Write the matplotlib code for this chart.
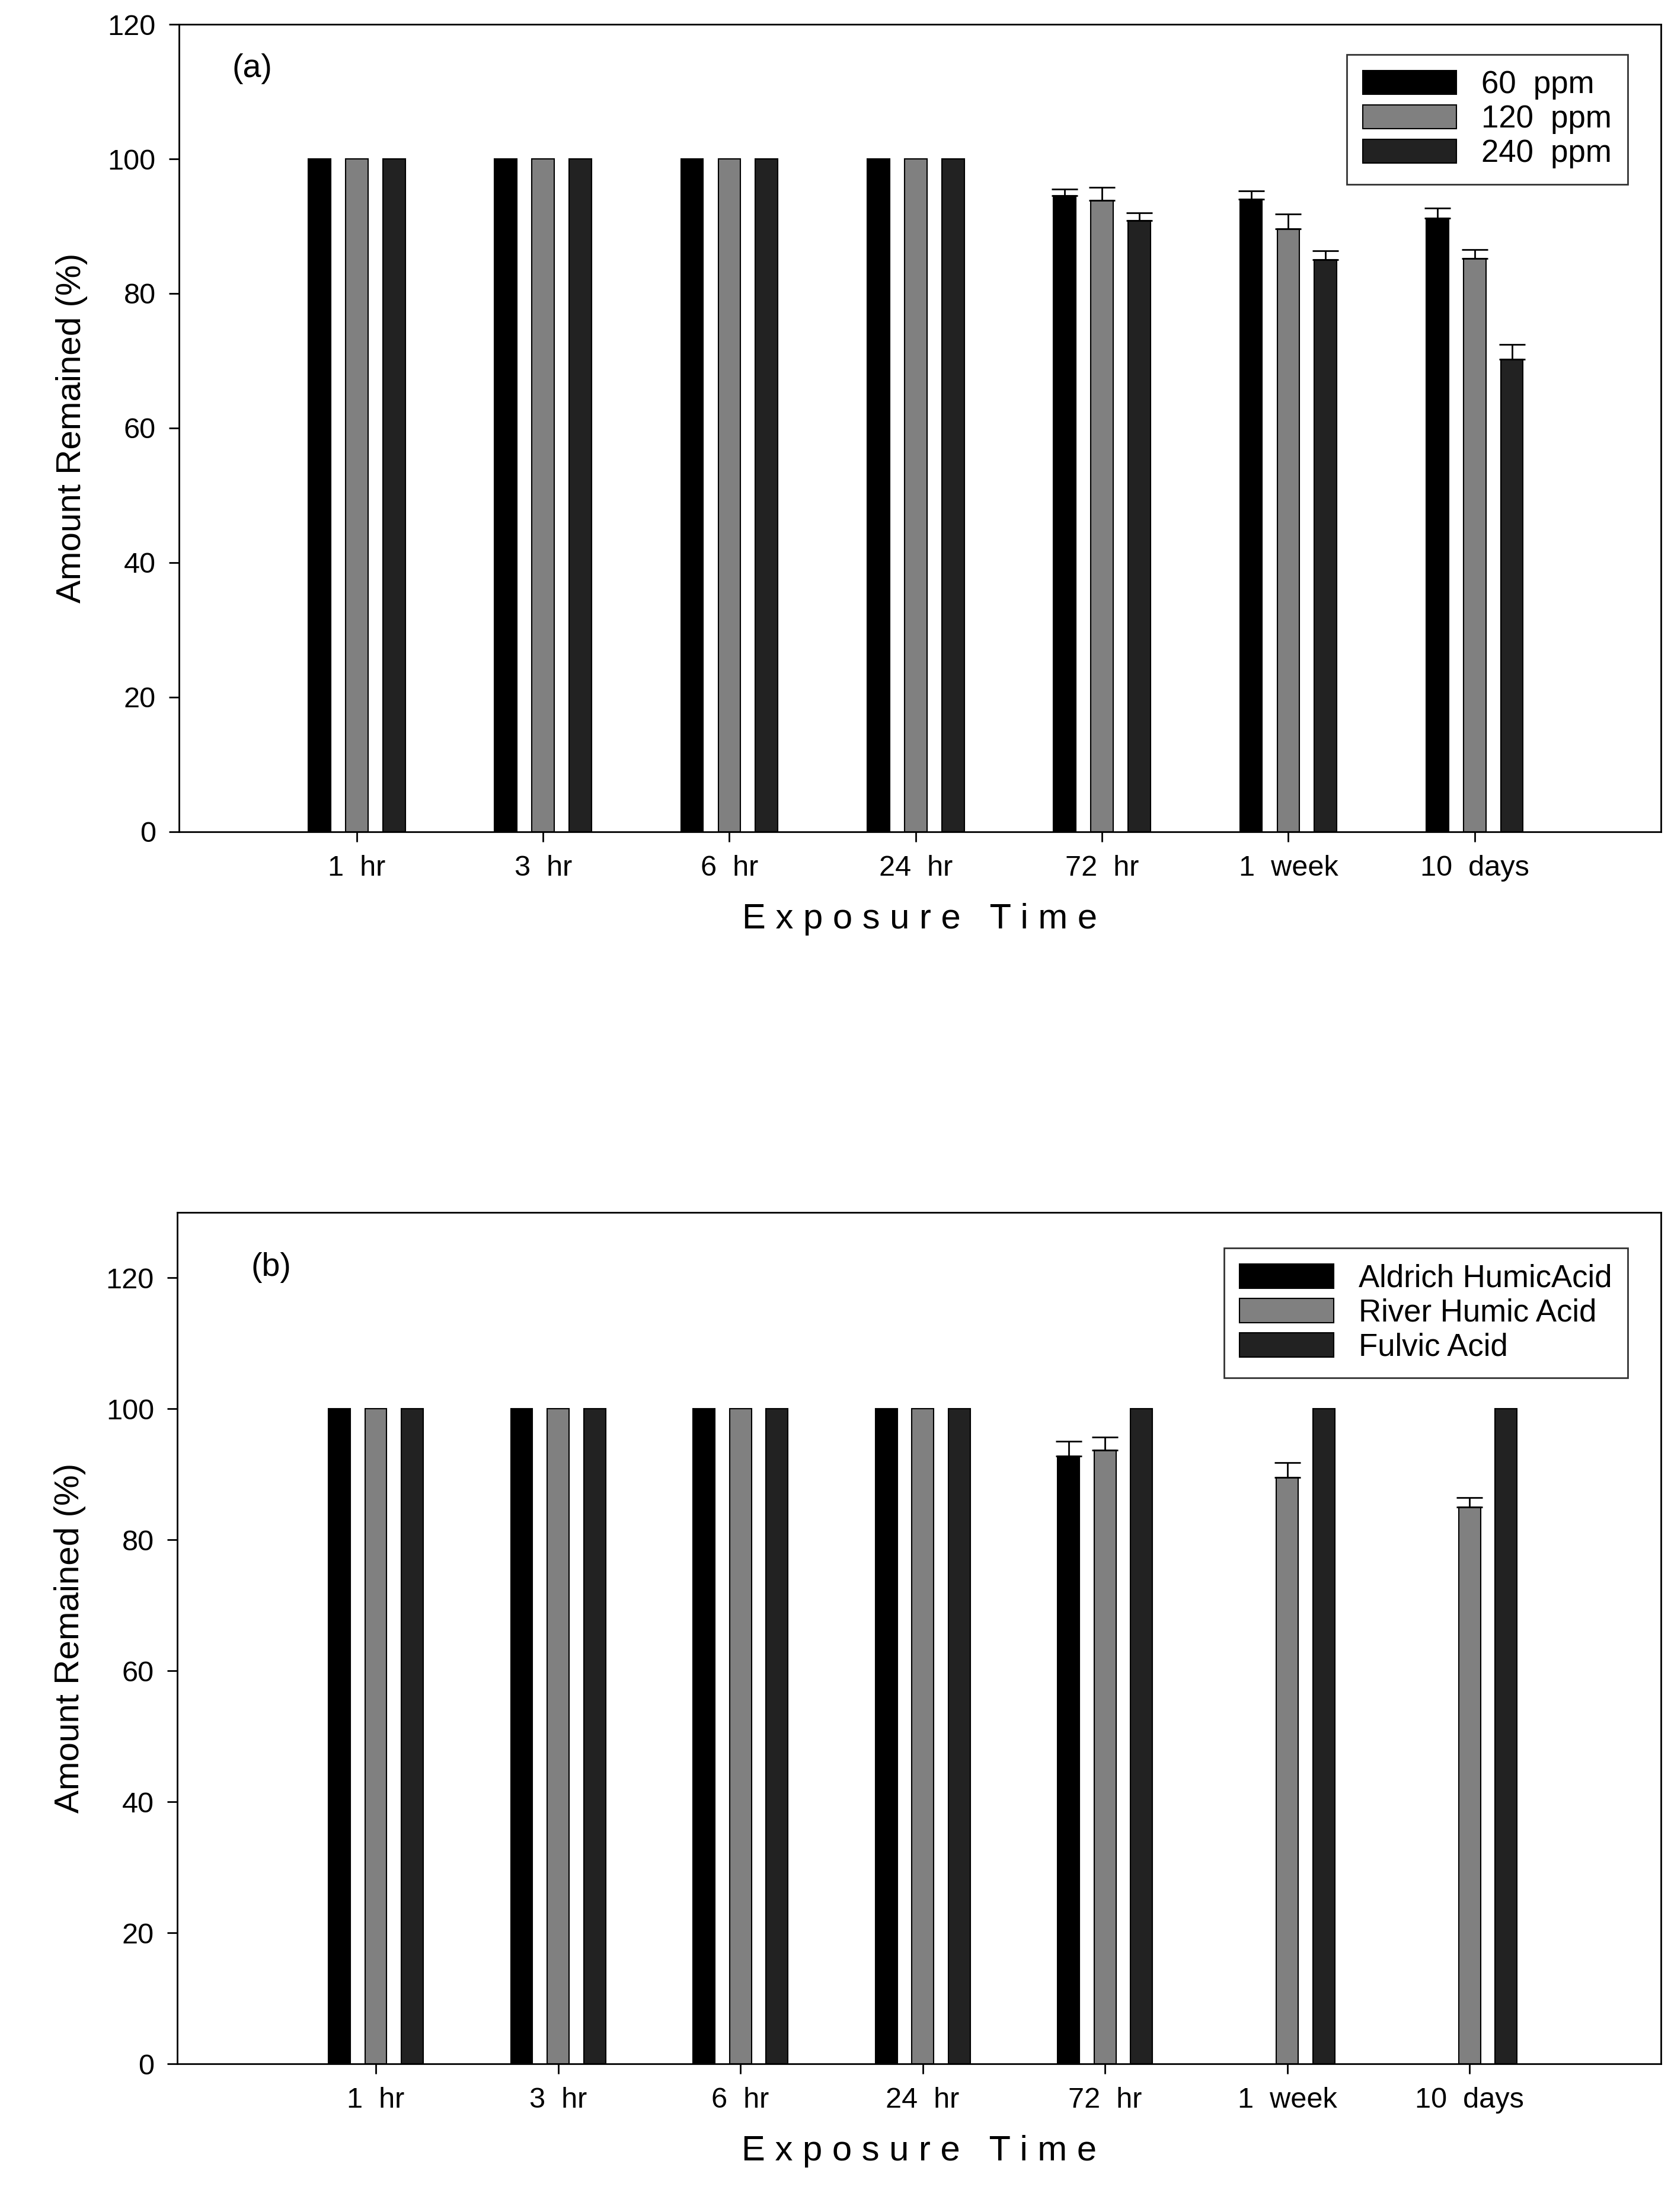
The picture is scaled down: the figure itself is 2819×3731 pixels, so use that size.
import matplotlib
matplotlib.use("Agg")
import matplotlib.pyplot as plt
import numpy as np

plt.rcParams['font.family'] = ['Liberation Sans', 'DejaVu Sans']

categories = ["1 hr", "3 hr", "6 hr", "24 hr", "72 hr", "1 week", "10 days"]

a_labels = ["60 ppm", "120 ppm", "240 ppm"]
a_vals = [[100, 100, 100, 100, 94.5, 94.0, 91.2],
          [100, 100, 100, 100, 93.8, 89.6, 85.2],
          [100, 100, 100, 100, 90.8, 85.0, 70.2]]
a_errs = [[0, 0, 0, 0, 1.0, 1.2, 1.5],
          [0, 0, 0, 0, 2.0, 2.2, 1.3],
          [0, 0, 0, 0, 1.2, 1.3, 2.2]]

b_labels = ["Aldrich HumicAcid", "River Humic Acid", "Fulvic Acid"]
b_vals = [[100, 100, 100, 100, 92.8, np.nan, np.nan],
          [100, 100, 100, 100, 93.7, 89.5, 85.0],
          [100, 100, 100, 100, 100, 100, 100]]
b_errs = [[0, 0, 0, 0, 2.2, 0, 0],
          [0, 0, 0, 0, 2.0, 2.3, 1.4],
          [0, 0, 0, 0, 0, 0, 0]]

colors = ["#000000", "#808080", "#222222"]

fig = plt.figure(figsize=(28.19, 37.31), dpi=100)
axa = fig.add_axes([0.107, 0.624, 0.887, 0.365])
axb = fig.add_axes([0.106, 0.067, 0.888, 0.385])

def spaced(s):
    return s.replace(" ", "  ")

def draw(ax, vals, errs, labels, xlim, ylim, yticks, tag, tagpos, legloc):
    x = np.arange(len(categories))
    for i in range(3):
        v = np.array(vals[i], dtype=float)
        e = np.array(errs[i], dtype=float)
        ax.bar(x + (i - 1) * 0.2, v, 0.12, color=colors[i], edgecolor="black",
               linewidth=1.5, label=labels[i])
        m = (e > 0) & ~np.isnan(v)
        ax.errorbar((x + (i - 1) * 0.2)[m], v[m], yerr=[np.zeros(m.sum()), e[m]],
                    fmt="none", ecolor="black", elinewidth=2, capsize=16, capthick=2)
    ax.set_xlim(*xlim)
    ax.set_ylim(*ylim)
    ax.set_yticks(yticks)
    ax.set_xticks(x)
    ax.set_xticklabels([spaced(c) for c in categories])
    ax.tick_params(labelsize=35, width=2, length=12, pad=16)
    for s in ax.spines.values():
        s.set_linewidth(2)
    ax.set_xlabel("E x p o s u r e   T i m e", fontsize=43, labelpad=26)
    ax.set_ylabel("Amount Remained (%)", fontsize=42, labelpad=24)
    ax.text(tagpos[0], tagpos[1], tag, transform=ax.transAxes, fontsize=40)
    leg = ax.legend(loc="upper right", bbox_to_anchor=legloc, fontsize=38,
                    fancybox=False, edgecolor="black", handlelength=3.0,
                    handleheight=0.8, borderpad=0.5, labelspacing=0.15,
                    handletextpad=0.8)
    leg.get_frame().set_linewidth(2)
    for t in leg.get_texts():
        t.set_text(spaced(t.get_text()) if len(t.get_text()) < 10 else t.get_text())

draw(axa, a_vals, a_errs, a_labels, (-0.955, 7.0), (0, 120), range(0, 121, 20),
     "(a)", (0.036, 0.935), (0.988, 0.982))
draw(axb, b_vals, b_errs, b_labels, (-1.09, 7.05), (0, 130), range(0, 121, 20),
     "(b)", (0.05, 0.925), (0.988, 0.976))

fig.savefig("out.png", dpi=100)
